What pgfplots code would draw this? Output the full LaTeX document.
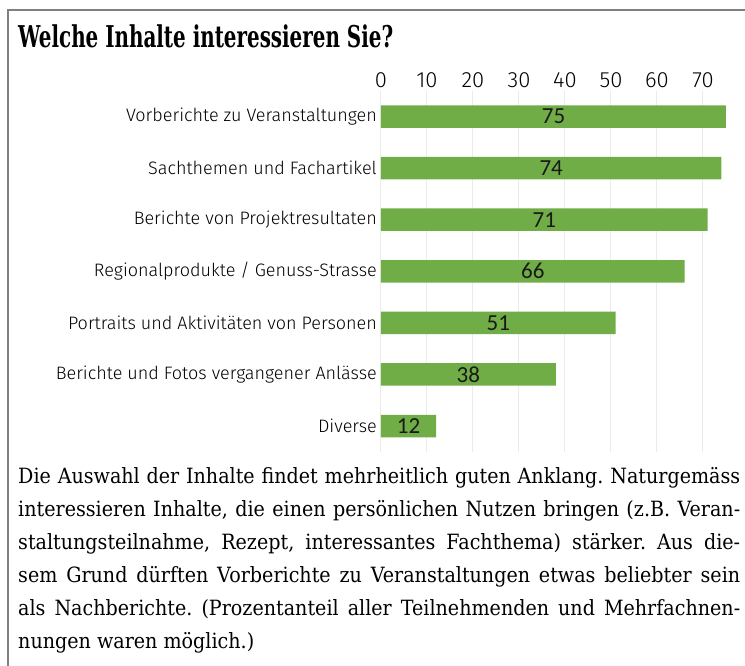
\documentclass[border=0pt]{standalone}
\usepackage{pgfplots}
\pgfplotsset{compat=1.18}
\usepackage{pgfplotstable}
\usepackage{fontspec}
\usepackage{graphicx}
\setmainfont{DejaVu Serif}
\newfontfamily\bodyfont{DejaVu Serif}[FakeStretch=0.91]
\newfontfamily\titlefont{DejaVu Serif}
\newfontfamily\labfont{Fira Sans Light}
\newfontfamily\valfont{Carlito}
\definecolor{barg}{RGB}{112,173,71}
\definecolor{framegray}{RGB}{128,128,128}
\definecolor{gridgray}{RGB}{235,235,235}
\frenchspacing

\pgfplotstableread{
y v
0 75
1 74
2 71
3 66
4 51
5 38
6 12
}\datatab
\pgfplotstableread{
y h lab
0 37.5 75
1 37 74
2 35.5 71
3 33 66
4 25.5 51
5 19 38
6 6 12
}\labtab

\begin{document}
\begin{tikzpicture}
\useasboundingbox (0pt,0pt) rectangle (745pt,-665pt);
\draw[framegray, line width=2pt] (8pt,-666pt) -- (8pt,-10pt) -- (746pt,-10pt);
\node[anchor=base west, inner sep=0pt] at (18pt,-47pt) {\resizebox{375pt}{\height}{\titlefont\fontsize{30}{32}\selectfont\bfseries Welche Inhalte interessieren Sie?}};

\begin{axis}[
  at={(381pt,-451.8pt)}, anchor=south west,
  scale only axis, width=358.8pt, height=361pt,
  xmin=0, xmax=78, ymin=-0.5, ymax=6.5, y dir=reverse,
  axis line style={draw=none},
  major tick length=0pt,
  xtick={0,10,...,70},
  xticklabel pos=upper,
  xmajorgrids, grid style={gridgray, line width=1pt},
  ytick={0,...,6},
  yticklabels={Vorberichte zu Veranstaltungen, Sachthemen und Fachartikel, Berichte von Projektresultaten, Regionalprodukte / Genuss-Strasse, Portraits und Aktivitäten von Personen, Berichte und Fotos vergangener Anlässe, Diverse},
  yticklabel style={font=\labfont\fontsize{18}{20}\selectfont, inner sep=0pt, xshift=-4pt},
  xticklabel style={font=\labfont\fontsize{22}{24}\selectfont, inner sep=0pt, yshift=3pt},
  /pgf/number format/assume math mode=true,
  clip=false,
]
\addplot[xbar, bar width=22.5pt, fill=barg, draw=none] table[x=v,y=y]{\datatab};
\addplot[draw=none, mark=none, nodes near coords, point meta=explicit symbolic,
  nodes near coords style={anchor=center, font=\valfont\fontsize{23}{24}\selectfont, inner sep=0pt, text=black!90}]
  table[x=h,y=y,meta=lab]{\labtab};
\end{axis}

\begin{scope}[every node/.style={anchor=base west, inner sep=0pt, font=\bodyfont\fontsize{21}{24}\selectfont}]
\node at (18pt,-483pt) {\makebox[722pt][s]{Die Auswahl der Inhalte findet mehrheitlich guten Anklang. Naturgemäss}};
\node at (18pt,-516pt) {\makebox[722pt][s]{interessieren Inhalte, die einen persönlichen Nutzen bringen (z.B. Veran-}};
\node at (18pt,-549pt) {\makebox[722pt][s]{staltungsteilnahme, Rezept, interessantes Fachthema) stärker. Aus die-}};
\node at (18pt,-582pt) {\makebox[722pt][s]{sem Grund dürften Vorberichte zu Veranstaltungen etwas beliebter sein}};
\node at (18pt,-615pt) {\makebox[722pt][s]{als Nachberichte. (Prozentanteil aller Teilnehmenden und Mehrfachnen-}};
\node at (18pt,-648pt) {nungen waren möglich.)};
\end{scope}
\end{tikzpicture}
\end{document}
